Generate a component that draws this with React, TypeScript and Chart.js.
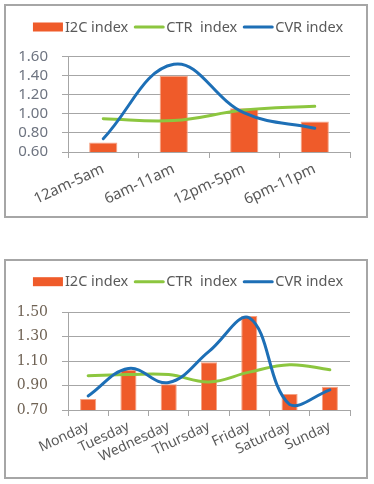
import React, { useEffect, useRef } from "react";
import { Chart, registerables } from "chart.js";

Chart.register(...registerables);

// ---- Data ----
const seriesNames = ["I2C index", "CTR  index", "CVR index"];

const hourCategories = ["12am-5am", "6am-11am", "12pm-5pm", "6pm-11pm"];
const hourI2C = [0.7, 1.4, 1.06, 0.92];
const hourCTR = [0.95, 0.93, 1.04, 1.08];
const hourCVR = [0.74, 1.52, 1.01, 0.85];
const hourYTicks = [0.6, 0.8, 1.0, 1.2, 1.4, 1.6];

const dayCategories = ["Monday", "Tuesday", "Wednesday", "Thursday", "Friday", "Saturday", "Sunday"];
const dayI2C = [0.79, 1.03, 0.91, 1.09, 1.47, 0.83, 0.89];
const dayCTR = [0.98, 0.99, 0.99, 0.93, 1.01, 1.07, 1.03];
const dayCVR = [0.815, 1.04, 0.925, 1.18, 1.455, 0.745, 0.865];
const dayYTicks = [0.7, 0.9, 1.1, 1.3, 1.5];

// ---- Styles ----
const BAR_COLOR = "#EF5B2A";
const BAR_EDGE = "#F5A283";
const GREEN = "#8CC63F";
const BLUE = "#1D6FB6";
const GRID = "#A6A6A6";
const TEXT = "#595959";
const SANS = "'Noto Sans', sans-serif";
const LEGEND_SIZE = 14.5;

type Cfg = {
  categories: string[];
  i2c: number[];
  ctr: number[];
  cvr: number[];
  yTicks: number[];
  yFont: string;
  ySize: number;
  yColor: string;
  xSize: number;
  xHeight: number;
  plotTop: number;
  legendY: number;
  width: number;
  height: number;
};

function IndexChart({ cfg }: { cfg: Cfg }) {
  const ref = useRef<HTMLCanvasElement>(null);
  useEffect(() => {
    // Legend drawn in the style of the original (sample, short gap, label)
    const topLegend = {
      id: "topLegend",
      afterDraw(chart: any) {
        const ctx = chart.ctx as CanvasRenderingContext2D;
        ctx.save();
        ctx.font = `${LEGEND_SIZE}px ${SANS}`;
        ctx.textBaseline = "middle";
        ctx.textAlign = "left";
        const sampleW = 30;
        const gap = 2;
        const itemGap = 6;
        const items = chart.data.datasets.map((ds: any, i: number) => ({
          text: ds.label as string,
          w: ctx.measureText(ds.label).width,
          color: i === 0 ? BAR_COLOR : ds.borderColor,
          isBar: i === 0,
        }));
        const total =
          items.reduce((a: number, it: any) => a + sampleW + gap + it.w, 0) +
          itemGap * (items.length - 1);
        let x = (chart.width - total) / 2 + 2;
        const y = cfg.legendY;
        items.forEach((it: any) => {
          if (it.isBar) {
            ctx.fillStyle = it.color;
            ctx.fillRect(x, y - 4.5, sampleW, 9);
          } else {
            ctx.strokeStyle = it.color;
            ctx.lineWidth = 3;
            ctx.lineCap = "round";
            ctx.beginPath();
            ctx.moveTo(x + 1, y);
            ctx.lineTo(x + sampleW - 1, y);
            ctx.stroke();
          }
          ctx.fillStyle = TEXT;
          ctx.fillText(it.text, x + sampleW + gap, y + 0.5);
          x += sampleW + gap + it.w + itemGap;
        });
        ctx.restore();
      },
    };
    const chart = new Chart(ref.current as HTMLCanvasElement, {
      type: "bar",
      data: {
        labels: cfg.categories,
        datasets: [
          {
            type: "bar",
            label: seriesNames[0],
            data: cfg.i2c,
            backgroundColor: BAR_COLOR,
            borderColor: BAR_EDGE,
            borderWidth: 1,
            barPercentage: 0.4,
            categoryPercentage: 1,
            order: 3,
          } as any,
          {
            type: "line",
            label: seriesNames[1],
            data: cfg.ctr,
            borderColor: GREEN,
            backgroundColor: GREEN,
            borderWidth: 3,
            pointRadius: 0,
            tension: 0.4,
            fill: false,
            borderCapStyle: "round",
            borderJoinStyle: "round",
            order: 2,
          } as any,
          {
            type: "line",
            label: seriesNames[2],
            data: cfg.cvr,
            borderColor: BLUE,
            backgroundColor: BLUE,
            borderWidth: 3,
            pointRadius: 0,
            tension: 0.4,
            fill: false,
            borderCapStyle: "round",
            borderJoinStyle: "round",
            order: 1,
          } as any,
        ],
      },
      options: {
        animation: false,
        responsive: false,
        layout: { padding: { top: cfg.plotTop, left: 0, right: 16, bottom: 0 } },
        plugins: {
          tooltip: { enabled: false },
          legend: { display: false },
        },
        scales: {
          x: {
            offset: true,
            grid: {
              offset: true,
              drawOnChartArea: false,
              drawTicks: true,
              tickLength: 6,
              color: GRID,
            },
            border: { color: GRID },
            ticks: {
              autoSkip: false,
              minRotation: 25,
              maxRotation: 25,
              padding: 2,
              color: TEXT,
              font: { family: SANS, size: cfg.xSize },
            },
            afterFit: (s: any) => {
              s.height = cfg.xHeight;
            },
          },
          y: {
            min: cfg.yTicks[0],
            max: cfg.yTicks[cfg.yTicks.length - 1],
            afterBuildTicks: (s: any) => {
              s.ticks = cfg.yTicks.map((v) => ({ value: v }));
            },
            grid: { color: GRID, tickLength: 6, drawTicks: true },
            border: { color: GRID },
            ticks: {
              autoSkip: false,
              padding: 14,
              color: cfg.yColor,
              font: { family: cfg.yFont, size: cfg.ySize },
              callback: (v: any) => Number(v).toFixed(2),
            },
            afterFit: (s: any) => {
              s.width = 62;
            },
          },
        },
      },
      plugins: [topLegend],
    });
    return () => chart.destroy();
  }, []);
  return (
    <canvas
      ref={ref}
      width={cfg.width}
      height={cfg.height}
      style={{ display: "block", width: cfg.width, height: cfg.height }}
    />
  );
}

const hourCfg: Cfg = {
  categories: hourCategories,
  i2c: hourI2C,
  ctr: hourCTR,
  cvr: hourCVR,
  yTicks: hourYTicks,
  yFont: SANS,
  ySize: 15,
  yColor: "#6E7480",
  xSize: 15,
  xHeight: 64,
  plotTop: 50.7,
  legendY: 21,
  width: 360,
  height: 210,
};

const dayCfg: Cfg = {
  categories: dayCategories,
  i2c: dayI2C,
  ctr: dayCTR,
  cvr: dayCVR,
  yTicks: dayYTicks,
  yFont: "'DejaVu Serif', serif",
  ySize: 14,
  yColor: "#6F6254",
  xSize: 14,
  xHeight: 67,
  plotTop: 51.3,
  legendY: 20.7,
  width: 360,
  height: 216,
};

const boxStyle = (top: number, height: number): React.CSSProperties => ({
  position: "absolute",
  left: 4,
  top,
  width: 364,
  height,
  border: "2px solid #A6A6A6",
  boxSizing: "border-box",
  background: "#fff",
});

export default function App() {
  return (
    <div>
      <div style={boxStyle(4, 214)}>
        <IndexChart cfg={hourCfg} />
      </div>
      <div style={boxStyle(259, 220)}>
        <IndexChart cfg={dayCfg} />
      </div>
    </div>
  );
}
